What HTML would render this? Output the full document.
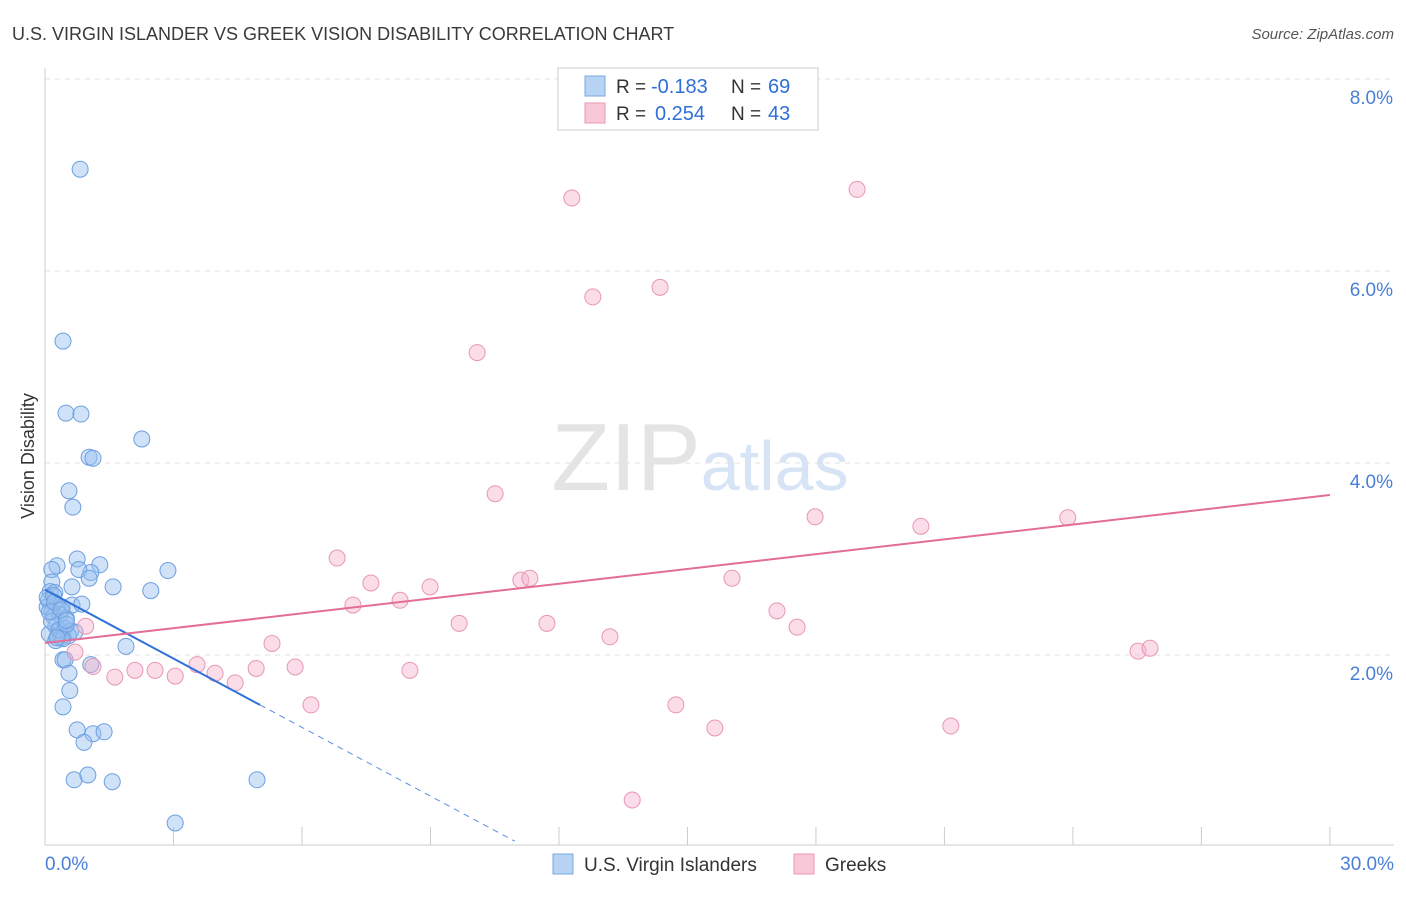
<!DOCTYPE html>
<html><head><meta charset="utf-8"><style>
body{margin:0;background:#fff;font-family:"Liberation Sans",sans-serif;}
svg text{font-family:"Liberation Sans",sans-serif;}
</style></head><body>
<svg id="chart" width="1406" height="892" xmlns="http://www.w3.org/2000/svg">
<text x="12" y="40" font-size="18" fill="#3a3a3a">U.S. VIRGIN ISLANDER VS GREEK VISION DISABILITY CORRELATION CHART</text>
<text x="1394" y="39" font-size="15" fill="#555" text-anchor="end" font-style="italic">Source: ZipAtlas.com</text>
<text x="700" y="490" font-size="96" text-anchor="middle" fill="#e4e4e4" font-family="Liberation Serif">ZIP<tspan fill="#d6e4f5" font-family="Liberation Sans" font-size="70">atlas</tspan></text>
<g id="grid"></g>
<g id="axes"></g>
<g id="marks"></g>
<text transform="translate(34,456) rotate(-90)" font-size="18" fill="#333" text-anchor="middle">Vision Disability</text>
<g>
<rect x="558" y="68" width="260" height="62" fill="#fff" stroke="#ccc"/>
<rect x="585" y="76" width="20" height="20" fill="#b8d4f5" stroke="#7aa8e0"/>
<text x="616" y="93" font-size="19" fill="#333">R =</text>
<text x="651" y="93" font-size="20" fill="#2f6fd6">-0.183</text>
<text x="731" y="93" font-size="19" fill="#333">N =</text>
<text x="768" y="93" font-size="20" fill="#2f6fd6">69</text>
<rect x="585" y="103" width="20" height="20" fill="#f9c8d8" stroke="#e898b3"/>
<text x="616" y="120" font-size="19" fill="#333">R =</text>
<text x="655" y="120" font-size="20" fill="#2f6fd6">0.254</text>
<text x="731" y="120" font-size="19" fill="#333">N =</text>
<text x="768" y="120" font-size="20" fill="#2f6fd6">43</text>
</g>
<g>
<rect x="553" y="854" width="20" height="20" fill="#b8d4f5" stroke="#7aa8e0"/>
<text x="584" y="871" font-size="19" fill="#333">U.S. Virgin Islanders</text>
<rect x="794" y="854" width="20" height="20" fill="#f9c8d8" stroke="#e898b3"/>
<text x="825" y="871" font-size="19" fill="#333">Greeks</text>
</g>
</svg>
<script>
const yTicks=[2,4,6,8];
const yTickLabels=["2.0%","4.0%","6.0%","8.0%"];
const xTicks=[0,3,6,9,12,15,18,21,24,27,30];
const blueX=[0.82,0.42,0.49,0.84,2.26,1.03,1.12,0.56,0.65,0.75,0.28,0.16,1.28,1.07,0.79,2.87,1.03,0.16,1.59,0.63,2.47,0.12,0.23,0.08,0.3,0.4,0.63,0.86,0.05,0.16,0.2,0.35,0.5,0.25,0.45,0.6,0.1,0.3,0.38,0.55,0.7,0.15,0.25,0.42,0.33,0.5,0.05,0.2,1.89,0.42,0.47,1.07,0.56,0.58,0.42,0.75,1.12,1.38,0.91,0.68,1.0,1.57,4.95,3.04,0.1,0.22,0.38,0.5,0.28];
const blueY=[7.06,5.27,4.52,4.51,4.25,4.06,4.05,3.71,3.54,3.0,2.93,2.89,2.94,2.86,2.89,2.88,2.8,2.76,2.71,2.71,2.67,2.66,2.65,2.57,2.52,2.5,2.52,2.53,2.5,2.45,2.4,2.42,2.38,2.3,2.28,2.25,2.22,2.2,2.18,2.2,2.24,2.35,2.15,2.17,2.26,2.32,2.6,2.62,2.09,1.95,1.95,1.9,1.81,1.63,1.46,1.22,1.18,1.2,1.09,0.7,0.75,0.68,0.7,0.25,2.45,2.55,2.47,2.36,2.18];
const pinkX=[12.30,18.96,12.79,14.36,10.09,10.51,17.98,20.45,23.88,6.82,7.61,8.99,11.11,11.32,16.04,8.29,7.19,9.67,11.72,17.09,17.56,13.19,5.30,25.52,25.80,0.70,1.12,1.63,2.10,2.57,3.04,3.55,3.97,4.44,4.93,5.84,8.52,6.21,14.73,15.64,21.15,13.71,0.95];
const pinkY=[6.76,6.85,5.73,5.83,5.15,3.68,3.44,3.34,3.43,3.01,2.75,2.71,2.78,2.80,2.80,2.57,2.52,2.33,2.33,2.46,2.29,2.19,2.12,2.04,2.07,2.03,1.88,1.77,1.84,1.84,1.78,1.90,1.81,1.71,1.86,1.875,1.84,1.48,1.48,1.24,1.26,0.49,2.3];
const blueTrend=[[0,2.68],[5.02,1.48],[10.97,0.06]];
const pinkTrend=[[0,2.125],[30,3.667]];
const X=v=>45+v*42.83, Y=v=>847-v*96;
const NS="http://www.w3.org/2000/svg";
function mk(t,a,p){const e=document.createElementNS(NS,t);for(const k in a)e.setAttribute(k,a[k]);p.appendChild(e);return e;}
const grid=document.getElementById('grid'),axes=document.getElementById('axes'),marks=document.getElementById('marks');
yTicks.forEach((t,i)=>{
 const l=mk('line',{x1:45,x2:1394,y1:Y(t),y2:Y(t),stroke:'#e2e2e2','stroke-dasharray':'5,5'},grid);
 
 
 const tx=mk('text',{x:1393,y:Y(t)+25,'font-size':19,fill:'#4a7fd6','text-anchor':'end'},axes);
 tx.textContent=yTickLabels[i];
 
 
});
const yl=mk('line',{x1:45,x2:45,y1:68,y2:845,stroke:'#ccc'},axes);


const xl=mk('line',{x1:45,x2:1394,y1:845,y2:845,stroke:'#ccc'},axes);


xTicks.forEach(t=>{
 const l=mk('line',{x1:X(t),x2:X(t),y1:827,y2:845,stroke:'#ccc'},axes);
 
 
});
[[0,"0.0%",'start',45],[30,"30.0%",'end',1394]].forEach(d=>{
 const tx=mk('text',{x:d[3],y:870,'font-size':19,fill:'#4a7fd6','text-anchor':d[2]},axes);
 tx.textContent=d[1];
 
 
});
blueX.forEach((v,i)=>{
 const c=mk('circle',{cx:X(v),cy:Y(blueY[i]),r:8,fill:'rgba(150,190,240,0.45)',stroke:'#6d9fe0','stroke-width':1},marks);
 
 
});
pinkX.forEach((v,i)=>{
 const c=mk('circle',{cx:X(v),cy:Y(pinkY[i]),r:8,fill:'rgba(245,180,204,0.45)',stroke:'#e896b3','stroke-width':1},marks);
 
 
});
const b1=mk('line',{x1:X(blueTrend[0][0]),y1:Y(blueTrend[0][1]),x2:X(blueTrend[1][0]),y2:Y(blueTrend[1][1]),stroke:'#2f72d8','stroke-width':2},marks);


const b2=mk('line',{x1:X(blueTrend[1][0]),y1:Y(blueTrend[1][1]),x2:X(blueTrend[2][0]),y2:Y(blueTrend[2][1]),stroke:'#5a8fe0','stroke-width':1,'stroke-dasharray':'6,5'},marks);


const p1=mk('line',{x1:X(pinkTrend[0][0]),y1:Y(pinkTrend[0][1]),x2:X(pinkTrend[1][0]),y2:Y(pinkTrend[1][1]),stroke:'#e46d98','stroke-width':2},marks);


</script>
</body></html>
